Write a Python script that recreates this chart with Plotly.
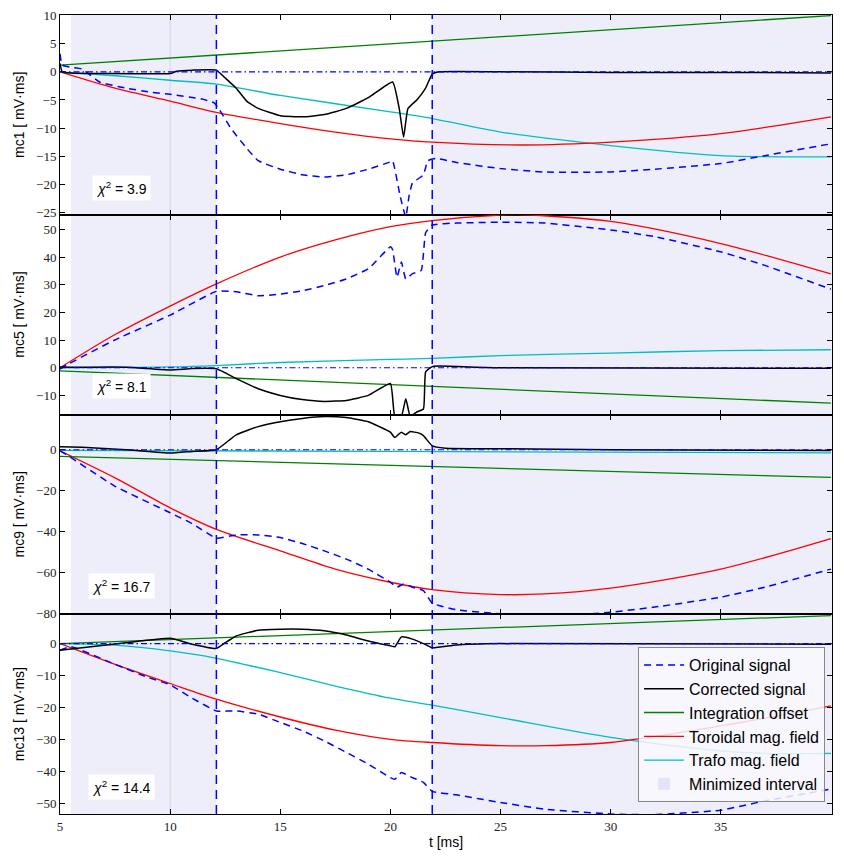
import plotly.graph_objects as go
from plotly.subplots import make_subplots

# ---------------- data ----------------
X_RANGE = [5, 40.05]
X_TICKS = [5, 10, 15, 20, 25, 30, 35]
CUT_LEFT = 12.1          # dashed boundaries of the fitted window
CUT_RIGHT = 21.9
MIN_INTERVALS = [(5.5, 12.1), (21.9, 40.05)]
CHANNELS = ["mc1", "mc5", "mc9", "mc13"]
CHI2 = [3.9, 8.1, 16.7, 14.4]
CHI2_POS_Y = [-20.6, -6.6, -66.5, -44.8]
Y_RANGES = [[-25.4, 10.1], [-16.9, 55.3], [-80.2, 17.2], [-53.4, 9.2]]
Y_TICKS = [
    [-25, -20, -15, -10, -5, 0, 5, 10],
    [-10, 0, 10, 20, 30, 40, 50],
    [-80, -60, -40, -20, 0],
    [-50, -40, -30, -20, -10, 0],
]

# mc1
mc1_orig_t = [5.0, 5.1, 5.5, 6.0, 6.8, 8.0, 9.1, 10.0, 11.4, 12.0, 12.2, 12.77, 13.5, 14.0, 15.0, 16.0, 17.0, 18.0,
              19.0, 20.0, 20.1, 20.45, 20.7, 20.85, 21.0, 21.5, 21.7, 22.05, 23, 25, 27, 30, 32, 35, 37, 40]
mc1_orig = [3.2, 1.2, 0.8, 0.5, -1.8, -2.9, -3.6, -4.0, -4.8, -5.5, -6.5, -10.1, -13.7, -15.8, -17.3, -18.3, -18.7,
            -18.3, -17.3, -16.0, -15.8, -22.2, -25.8, -22.0, -19.8, -18.3, -15.8, -15.4, -16.1, -17.2, -17.8, -17.8,
            -17.3, -16.3, -14.9, -12.8]
mc1_corr_t = [5.0, 5.1, 5.5, 7, 10.0, 10.3, 11, 12.1, 12.5, 13.0, 13.5, 14.0, 15, 16, 17, 18, 19, 20.1, 20.4, 20.6,
              20.8, 21.2, 21.6, 21.9, 22.2, 25, 30, 35, 40]
mc1_corr = [1.5, 0.0, -0.2, -0.3, -0.3, 0.1, 0.3, 0.3, -1.1, -2.9, -5.3, -6.5, -7.8, -8.0, -7.6, -6.5, -4.6, -1.8,
            -6.5, -11.6, -6.5, -5.0, -2.9, -0.4, 0.0, 0.0, -0.1, -0.1, -0.2]
mc1_offs_t = [5, 40]
mc1_offs = [1.2, 10.0]
mc1_tor_t = [5, 7.5, 10, 12.1, 15, 17.5, 20, 21.9, 26, 30, 35, 40]
mc1_tor = [0, -2.9, -5.2, -7.2, -9.2, -10.7, -11.9, -12.5, -13.0, -12.5, -11.0, -8.0]
mc1_trafo_t = [5, 7.5, 10, 12.1, 15, 20, 21.9, 25, 30, 35, 37.5, 40]
mc1_trafo = [0, -0.7, -1.5, -2.2, -4.2, -7.1, -8.3, -10.7, -13.1, -14.9, -15.1, -15.1]

# mc5
mc5_orig_t = [5, 5.3, 7.5, 10, 12.1, 13, 14, 15, 16, 17, 18, 19, 20.0, 20.1, 20.3, 20.5, 20.7, 21, 21.4, 21.6, 21.9,
              23, 25, 27, 30, 32, 35, 37, 40]
mc5_orig = [-0.5, 1.0, 10.1, 19.0, 27.6, 27.5, 26.0, 26.6, 27.8, 29.7, 32.1, 35.8, 43.7, 42.7, 32.7, 38.2, 32.1, 34,
            35.2, 48.8, 51.6, 52.3, 52.6, 52.3, 49.8, 47.4, 41.9, 37, 28.4]
mc5_corr_t = [5, 5.5, 8, 10, 11, 12.1, 13, 14, 15, 16, 17, 18, 19, 20.0, 20.2, 20.5, 20.7, 20.9, 21.2, 21.5, 21.6,
              21.9, 22.2, 25, 40]
mc5_corr = [0.3, 0.2, 0.2, -0.8, -0.3, -0.4, -3.9, -7.6, -10.0, -11.5, -12.2, -11.8, -10.0, -5.7, -17.5, -17.5,
            -11.2, -17.5, -16, -14.9, -1.5, 0.4, 0.6, 0, -0.2]
mc5_offs_t = [5, 40]
mc5_offs = [-1.1, -12.8]
mc5_tor_t = [5, 7.5, 10, 12.1, 15, 17.5, 20, 21.9, 25, 26, 30, 35, 40]
mc5_tor = [0, 12, 22.3, 30.3, 40.0, 46.2, 51.0, 53.2, 55.2, 55.3, 52.9, 44.9, 33.9]
mc5_trafo_t = [5, 10, 12.1, 15, 20, 21.9, 25, 30, 35, 40]
mc5_trafo = [0, 0.3, 0.8, 1.9, 3.0, 3.4, 4.4, 5.3, 6.2, 6.5]

# mc9
mc9_orig_t = [5, 5.3, 7.5, 10, 11, 12.1, 13, 14, 15, 16, 17, 18, 19, 20, 20.3, 20.6, 21, 21.5, 21.9, 23, 25, 28, 30,
              32, 35, 37, 40]
mc9_orig = [-0.5, -2.4, -17.8, -30.7, -36, -43.1, -41.5, -41.5, -42.8, -45.7, -49.3, -53.3, -58.2, -64.6, -67, -65.4,
            -67, -68.7, -74.8, -78, -80, -80.8, -79.2, -76.7, -71.9, -67, -58.2]
mc9_corr_t = [5, 6, 8, 10, 11, 12.1, 13, 14, 15, 16, 17, 18, 19, 19.5, 20, 20.2, 20.5, 20.7, 20.9, 21.3, 21.5, 21.9,
              22.5, 25, 30, 40]
mc9_corr = [1.5, 1.2, 0, -1.6, -0.8, 0, 7.3, 11.3, 13.7, 15.3, 16.2, 15.7, 13.7, 11.3, 8.6, 6.0, 8.6, 7.3, 8.9, 8.1,
            6.9, 1.9, 0.8, 0.5, 0, -0.3]
mc9_offs_t = [5, 40]
mc9_offs = [-3.2, -13.5]
mc9_tor_t = [5, 7.5, 10, 12.1, 15, 17.5, 20, 21.9, 25, 27, 30, 35, 40]
mc9_tor = [-0.5, -13.7, -28.3, -38.8, -49.3, -58.2, -64.6, -68.2, -70.6, -70.3, -67.5, -58.2, -43.3]
mc9_trafo_t = [5, 20, 40]
mc9_trafo = [-0.3, -0.8, -1.5]

# mc13
mc13_orig_t = [5, 5.5, 7.5, 9, 10, 11, 12.1, 13, 14, 15, 16, 17, 18, 19, 20, 20.2, 20.5, 21, 21.5, 21.9, 23, 25, 27,
               30, 32, 35, 37, 40]
mc13_orig = [-2.1, -1, -6.5, -10.6, -12.9, -17.1, -21.1, -21.1, -22.1, -24.7, -27.3, -30.5, -34.1, -37.8, -42, -42.5,
             -40.4, -42, -43.5, -46.3, -47.4, -49.8, -51.9, -53.4, -53.6, -52.2, -49.3, -45.6]
mc13_corr_t = [5, 6, 8, 10, 11, 12.1, 12.5, 13, 14, 15, 16, 17, 18, 19, 20, 20.2, 20.5, 21, 21.5, 21.9, 23, 25, 40]
mc13_corr = [-2.1, -1.3, 0.3, 1.7, -0.2, -1.5, 0.3, 2.4, 4.2, 4.5, 4.5, 4.0, 2.7, 0.8, -0.7, -1.0, 2.1, 1.4, 0,
             -1.3, -0.4, 0, -0.2]
mc13_offs_t = [5, 40]
mc13_offs = [0, 8.8]
mc13_tor_t = [5, 7.5, 10, 12.1, 15, 17.5, 20, 21.9, 25, 27, 30, 35, 40]
mc13_tor = [0, -6.5, -12.5, -17.4, -23, -27.1, -30, -31, -32, -32, -31, -25.8, -19.5]
mc13_trafo_t = [5, 7.5, 10, 12.1, 15, 17.5, 20, 21.9, 25, 30, 35, 37, 40]
mc13_trafo = [0, -0.5, -2.3, -4.6, -9.1, -13.3, -17.1, -19.3, -23.2, -29.4, -33.6, -34.4, -34.4]

PANELS = [
    dict(orig=(mc1_orig_t, mc1_orig), corr=(mc1_corr_t, mc1_corr), offs=(mc1_offs_t, mc1_offs),
         tor=(mc1_tor_t, mc1_tor), trafo=(mc1_trafo_t, mc1_trafo)),
    dict(orig=(mc5_orig_t, mc5_orig), corr=(mc5_corr_t, mc5_corr), offs=(mc5_offs_t, mc5_offs),
         tor=(mc5_tor_t, mc5_tor), trafo=(mc5_trafo_t, mc5_trafo)),
    dict(orig=(mc9_orig_t, mc9_orig), corr=(mc9_corr_t, mc9_corr), offs=(mc9_offs_t, mc9_offs),
         tor=(mc9_tor_t, mc9_tor), trafo=(mc9_trafo_t, mc9_trafo)),
    dict(orig=(mc13_orig_t, mc13_orig), corr=(mc13_corr_t, mc13_corr), offs=(mc13_offs_t, mc13_offs),
         tor=(mc13_tor_t, mc13_tor), trafo=(mc13_trafo_t, mc13_trafo)),
]

# ---------------- styles ----------------
BLUE = "#0000ff"
GREEN = "#008000"
RED = "#ff0000"
CYAN = "#00bfbf"
BLACK = "#000000"
SHADE = "#eeeefb"
SERIF = "Liberation Serif"
SANS = "Liberation Sans"

fig = make_subplots(rows=4, cols=1, shared_xaxes=True, vertical_spacing=0)

for i, p in enumerate(PANELS):
    row = i + 1
    first = (i == 0)
    yname = "y" if row == 1 else f"y{row}"
    # shaded minimized intervals
    for (a, b) in MIN_INTERVALS:
        fig.add_shape(type="rect", xref="x", yref=f"{yname} domain", x0=a, x1=b, y0=0, y1=1,
                      fillcolor=SHADE, line_width=0, layer="below")
    # faint vertical line at t=10
    fig.add_shape(type="line", xref="x", yref=f"{yname} domain", x0=10, x1=10, y0=0, y1=1,
                  line=dict(color="#d4d4e0", width=1), layer="below")
    # zero reference line (dash-dot)
    fig.add_shape(type="line", xref="x", yref=yname, x0=X_RANGE[0], x1=X_RANGE[1],
                  y0=0, y1=0, line=dict(color=BLUE, width=1.1, dash="6px,3px,1.5px,3px"))

    fig.add_trace(go.Scatter(x=p["trafo"][0], y=p["trafo"][1], mode="lines", name="Trafo mag. field",
                             line=dict(color=CYAN, width=1.3, shape="spline", smoothing=0.8),
                             showlegend=first, legendrank=5), row=row, col=1)
    fig.add_trace(go.Scatter(x=p["tor"][0], y=p["tor"][1], mode="lines", name="Toroidal mag. field",
                             line=dict(color=RED, width=1.3, shape="spline", smoothing=0.8),
                             showlegend=first, legendrank=4), row=row, col=1)
    fig.add_trace(go.Scatter(x=p["offs"][0], y=p["offs"][1], mode="lines", name="Integration offset",
                             line=dict(color=GREEN, width=1.3),
                             showlegend=first, legendrank=3), row=row, col=1)
    fig.add_trace(go.Scatter(x=p["orig"][0], y=p["orig"][1], mode="lines", name="Original signal",
                             line=dict(color=BLUE, width=1.5, dash="7px,5px", shape="spline", smoothing=0.4),
                             showlegend=first, legendrank=1), row=row, col=1)
    fig.add_trace(go.Scatter(x=p["corr"][0], y=p["corr"][1], mode="lines", name="Corrected signal",
                             line=dict(color=BLACK, width=1.5, shape="spline", smoothing=0.4),
                             showlegend=first, legendrank=2), row=row, col=1)

    # chi^2 label
    fig.add_annotation(x=7.8, y=CHI2_POS_Y[i], xref="x", yref=yname,
                       text=f"<i>χ</i><sup>2</sup> = {CHI2[i]}",
                       showarrow=False, bgcolor="white", borderpad=3,
                       font=dict(family=SANS, size=14, color="black"))

    fig.update_yaxes(row=row, col=1, range=Y_RANGES[i], tickvals=Y_TICKS[i], automargin=False,
                     ticklabeloverflow="allow",
                     title=dict(text=f"{CHANNELS[i]} [ mV·ms]", font=dict(family=SANS, size=14), standoff=8),
                     ticks="inside", ticklen=5, tickcolor="black", mirror="allticks",
                     showline=True, linecolor="black", linewidth=1,
                     showgrid=False, zeroline=False,
                     tickfont=dict(family=SERIF, size=13, color="#222"))
    fig.update_xaxes(row=row, col=1, range=X_RANGE, tickvals=X_TICKS, automargin=False,
                     ticks="inside", ticklen=5, tickcolor="black", mirror="allticks",
                     showline=True, linecolor="black", linewidth=1,
                     showgrid=False, zeroline=False,
                     tickfont=dict(family=SERIF, size=13, color="#222"))

# legend-only patch for the minimized interval
fig.add_trace(go.Bar(x=[None], y=[None], marker=dict(color="#e4e4f8", line=dict(width=0)),
                     name="Minimized interval", legendrank=6), row=4, col=1)

# vertical dashed boundaries spanning all panels
for xv in (CUT_LEFT, CUT_RIGHT):
    fig.add_shape(type="line", xref="x", yref="paper", x0=xv, x1=xv, y0=0, y1=1,
                  line=dict(color=BLUE, width=1.5, dash="9px,6px"))

fig.update_xaxes(row=4, col=1, title=dict(text="t [ms]", font=dict(family=SANS, size=14), standoff=4))

fig.update_layout(
    width=844, height=857,
    margin=dict(l=52, r=20, t=7, b=51),
    paper_bgcolor="white", plot_bgcolor="rgba(0,0,0,0)",
    font=dict(family=SANS, size=15, color="black"),
    showlegend=True,
    legend=dict(x=0.991, y=0.015, xanchor="right", yanchor="bottom",
                bgcolor="rgba(248,248,253,0.85)", bordercolor="#888", borderwidth=1,
                font=dict(family=SANS, size=16), tracegroupgap=0, itemwidth=40),
)

fig.write_html("out.html")
